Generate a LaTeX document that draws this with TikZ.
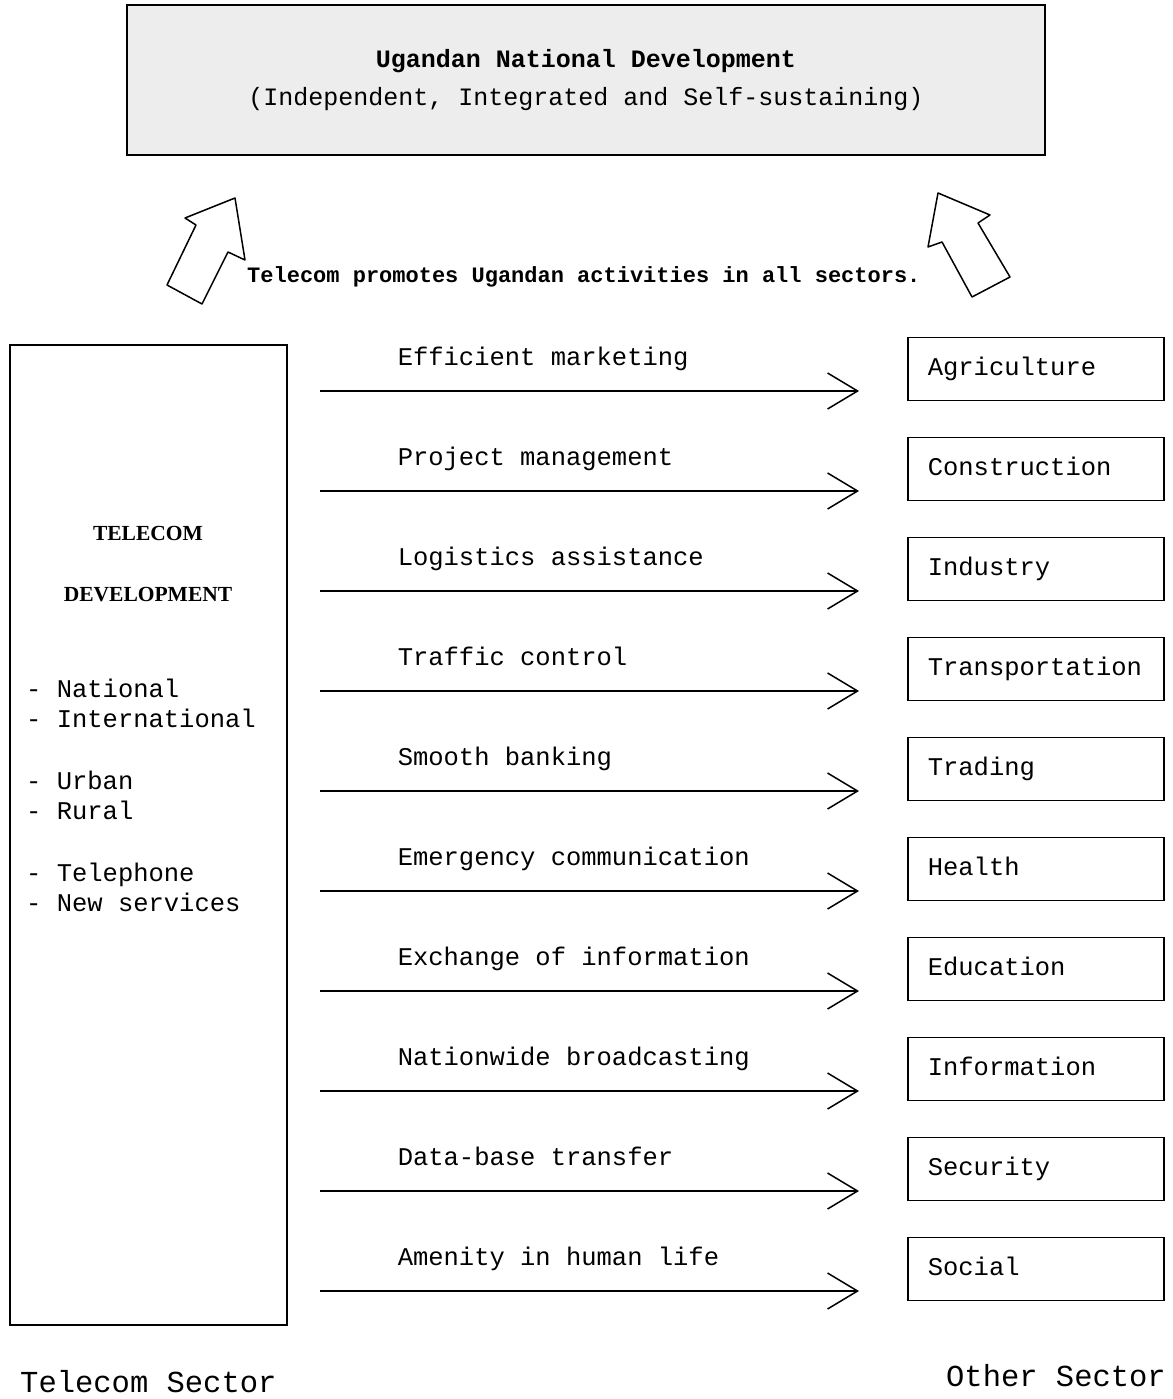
\documentclass[tikz,border=0pt]{standalone}
\usepackage{fontspec}
\usetikzlibrary{arrows.meta}
\newfontfamily\twfont{Liberation Mono}
\newfontfamily\serifbold{Liberation Serif}
\begin{document}
\begin{tikzpicture}[x=1pt,y=-1pt,
  box/.style={draw,line width=1.6pt},
  tt/.style={font=\twfont\fontsize{25.5}{30}\selectfont},
  sector/.style={box,tt,anchor=west,minimum height=63pt,text width=216pt,inner xsep=20pt,align=left},
  flow/.style={line width=1.5pt,-{Straight Barb[length=30pt,width=36pt,line width=1.5pt]}},
  hollow/.style={line width=1.5pt,line join=round}]
\useasboundingbox (0,0) rectangle (1172,1399);
% top box
\node[box,fill=gray!14,minimum width=918pt,minimum height=150pt,align=center,
  font=\twfont\fontsize{25}{38}\selectfont] (top) at (586,80)
  {\textbf{Ugandan National Development}\\(Independent, Integrated and Self-sustaining)};
% hollow arrows
\draw[hollow] (235,198) -- (185,218) -- (196,225) -- (167,285) -- (202,304) -- (228,252) -- (245,260) -- cycle;
\draw[hollow] (938,193) -- (928,247) -- (942,242) -- (972,297) -- (1010,277) -- (978,223) -- (990,215) -- cycle;
\node[font=\twfont\bfseries\fontsize{22}{26}\selectfont,anchor=west,inner sep=0pt] (promo) at (247,277) {Telecom promotes Ugandan activities in all sectors.};
% left box
\node[box,minimum width=277pt,minimum height=980pt] (tel) at (148.5,835) {};
\node[font=\serifbold\bfseries\fontsize{21.5}{25}\selectfont] (t1) at (148,533) {TELECOM};
\node[font=\serifbold\bfseries\fontsize{21.5}{25}\selectfont] (t2) at (148,595) {DEVELOPMENT};
\node[tt,anchor=west,align=left,inner sep=0pt] (l1) at (26,703) {- National\\- International};
\node[tt,anchor=west,align=left,inner sep=0pt] (l2) at (26,795) {- Urban\\- Rural};
\node[tt,anchor=west,align=left,inner sep=0pt] (l3) at (26,887) {- Telephone\\- New services};
% sectors
\foreach \i/\lab/\sec in {0/Efficient marketing/Agriculture,
  1/Project management/Construction,
  2/Logistics assistance/Industry,
  3/Traffic control/Transportation,
  4/Smooth banking/Trading,
  5/Emergency communication/Health,
  6/Exchange of information/Education,
  7/Nationwide broadcasting/Information,
  8/Data-base transfer/Security,
  9/Amenity in human life/Social}{
  \node[sector] (s\i) at (907,369+100*\i) {\strut\sec};
  \coordinate (a\i) at (320,391+100*\i);
  \draw[flow] (a\i) -- ([xshift=-48pt]s\i.west |- a\i)
    node[pos=0,tt,anchor=base west,xshift=77pt,yshift=26pt,inner sep=0pt] (lab\i) {\lab};
}
% bottom labels
\node[font=\twfont\fontsize{30.5}{34}\selectfont,anchor=west,inner sep=0pt] (ts) at (20,1382) {Telecom Sector};
\node[font=\twfont\fontsize{30.5}{34}\selectfont,anchor=east,inner sep=0pt] (os) at (1166,1376) {Other Sector};
\end{tikzpicture}
\end{document}
